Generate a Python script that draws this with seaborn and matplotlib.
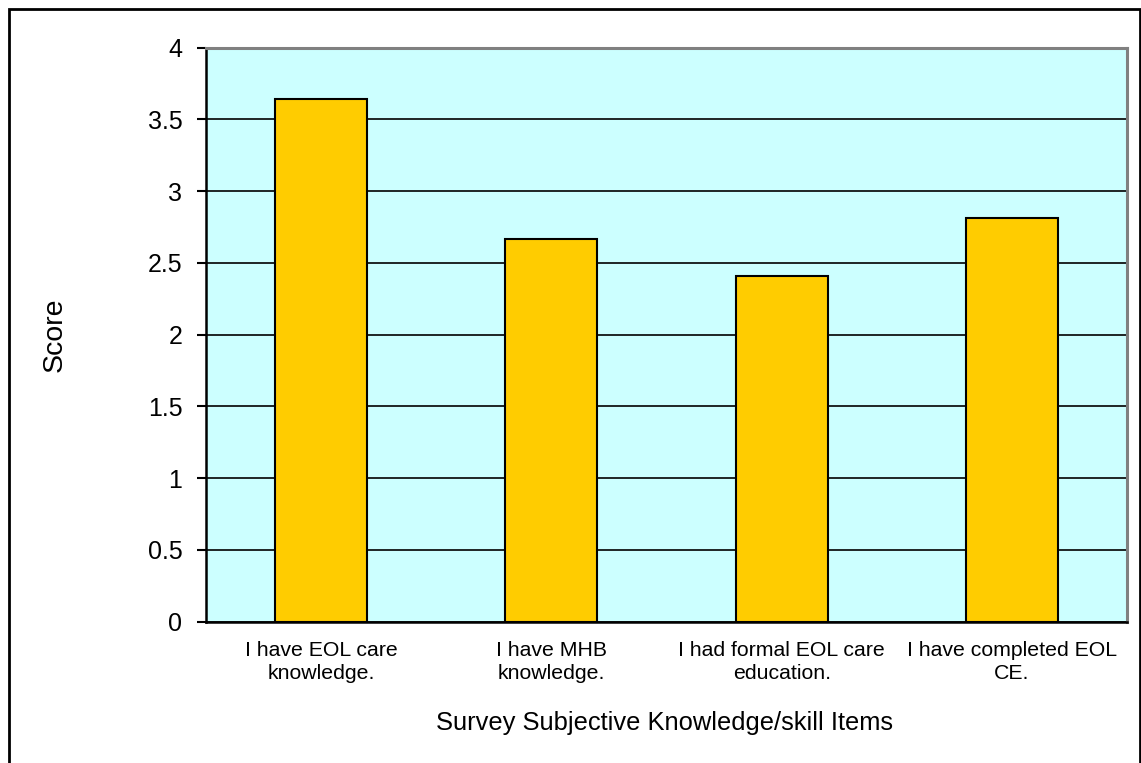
import matplotlib
matplotlib.use("Agg")
import matplotlib.pyplot as plt
from matplotlib.patches import Rectangle
import seaborn as sns
import pandas as pd

categories = [
    "I have EOL care\nknowledge.",
    "I have MHB\nknowledge.",
    "I had formal EOL care\neducation.",
    "I have completed EOL\nCE.",
]
scores = [3.64, 2.67, 2.41, 2.81]
yticks = [0, 0.5, 1, 1.5, 2, 2.5, 3, 3.5, 4]
ytick_labels = ["0", "0.5", "1", "1.5", "2", "2.5", "3", "3.5", "4"]

sns.set_theme(style="white")
plt.rcParams["font.family"] = ["Liberation Sans", "DejaVu Sans"]

df = pd.DataFrame({"item": categories, "score": scores})

fig = plt.figure(figsize=(11.41, 7.63), dpi=100)
ax = fig.add_axes([206 / 1141, 1 - 621.7 / 763, 921 / 1141, 574 / 763])
ax.set_facecolor("#CCFFFF")

sns.barplot(data=df, x="item", y="score", ax=ax, color="#FFCC00",
            width=0.4, edgecolor="black", linewidth=1.5, saturation=1,
            zorder=3)

ax.set_ylim(0, 4)
ax.set_xlim(-0.5, len(categories) - 0.5)
ax.set_yticks(yticks)
ax.set_yticklabels(ytick_labels)
ax.yaxis.grid(True, color="black", linewidth=1.2, zorder=1)
ax.set_axisbelow(True)

ax.tick_params(axis="y", direction="out", length=6.5, width=1.5, color="black",
               pad=10.5, labelsize=18, left=True, labelcolor="black")
ax.tick_params(axis="x", length=0, pad=14, labelsize=15.3, labelcolor="black")
for lbl in ax.get_xticklabels():
    lbl.set_linespacing(1.25)

for side in ("left", "bottom"):
    ax.spines[side].set_color("black")
    ax.spines[side].set_linewidth(1.8)
for side in ("top", "right"):
    ax.spines[side].set_color("#808080")
    ax.spines[side].set_linewidth(2.2)

ax.set_ylabel("Score", fontsize=20.5, color="black")
ax.set_xlabel("Survey Subjective Knowledge/skill Items", fontsize=18.4,
              color="black")
ax.yaxis.set_label_coords(-0.150, 0.5)
ax.xaxis.set_label_coords(0.498, -0.156)

# outer chart frame
fig.patches.append(Rectangle((8.5 / 1141, -0.02), (1139.5 - 8.5) / 1141,
                             1 - 9 / 763 + 0.02, transform=fig.transFigure,
                             fill=False, edgecolor="black", linewidth=2,
                             zorder=10))

fig.savefig("out.png", dpi=100)
